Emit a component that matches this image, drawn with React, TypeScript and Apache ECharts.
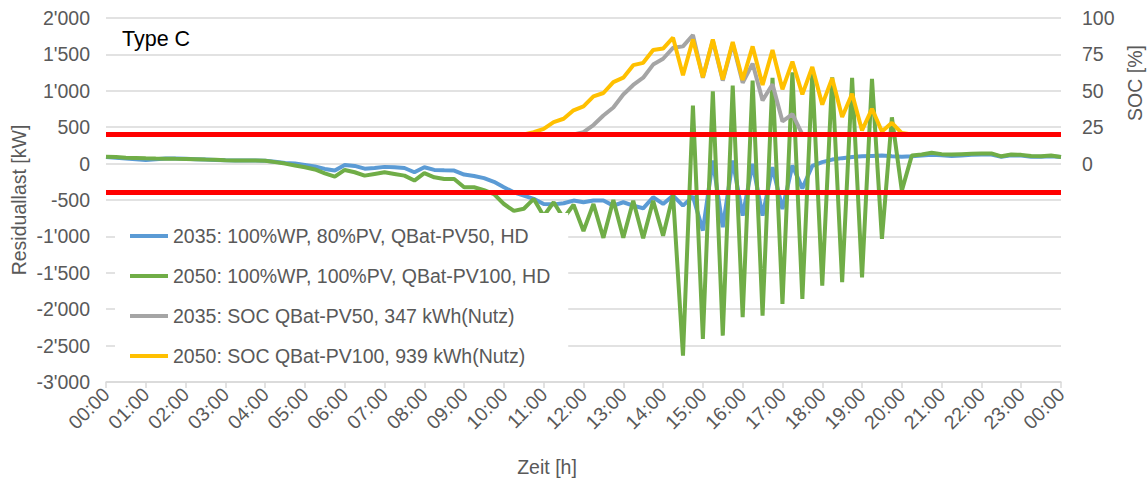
import React, { useEffect, useRef } from "react";
import * as echarts from "echarts";

// Categories: 15-minute steps from 00:00 to 00:00 (97 points)
const times: string[] = [];
for (let i = 0; i <= 96; i++) {
  const h = Math.floor(i / 4) % 24;
  const m = (i % 4) * 15;
  times.push(`${String(h).padStart(2, "0")}:${String(m).padStart(2, "0")}`);
}

const residual2035 = [
  90, 80, 70, 60, 50, 60, 70, 70, 65, 60, 55, 50, 45, 42, 42, 42,
  40, 25, 10, 0, -18, -40, -73, -96, -18, -32, -70, -60, -45, -50, -60, -119,
  -50, -87, -92, -96, -151, -170, -200, -250, -325, -395, -440, -485, -554, -560, -545, -508,
  -531, -508, -508, -577, -531, -577, -614, -462, -554, -440, -577, -450, -920, 41, -875, 41,
  -714, -5, -714, -50, -623, -27, -340, -30, 20, 55, 75, 90, 100, 105, 110, 100,
  95, 100, 110, 120, 115, 105, 110, 120, 125, 125, 95, 115, 110, 95, 95, 100,
  90,
];

const residual2050 = [
  95, 90, 82, 78, 73, 70, 68, 65, 64, 60, 55, 52, 45, 42, 42, 42,
  40, 20, 0, -25, -50, -80, -133, -179, -87, -119, -165, -142, -119, -142, -165, -233,
  -130, -188, -211, -211, -325, -325, -365, -420, -555, -650, -620, -485, -720, -531, -750, -565,
  -925, -555, -1020, -500, -1020, -510, -1025, -510, -990, -430, -2637, 797, -2408, 993, -2363, 1071,
  -2111, 1140, -2088, 1177, -1927, 1254, -1859, 1240, -1676, 1186, -1630, 1177, -1562, 1163, -1035, 636,
  -371, 110, 125, 150, 130, 125, 130, 135, 140, 140, 100, 125, 120, 105, 100, 110,
  90,
];

const soc2035 = [
  20, 20, 20, 20, 20, 20, 20, 20, 20, 20, 20, 20, 20, 20, 20, 20,
  20, 20, 20, 20, 20, 20, 20, 20, 20, 20, 20, 20, 20, 20, 20, 20,
  20, 20, 20, 20, 20, 20, 20, 20, 20, 20, 20, 20, 20, 20, 20, 20,
  21.6, 26.5, 33, 38.5, 47.5, 54, 59, 68, 72, 79.5, 80.5, 88.3, 59, 84.5, 57, 82.5,
  55.5, 68.7, 43.4, 54.5, 29, 34, 20, 20, 20, 20, 20, 20, 20, 20, 20, 20,
  20, 20, 20, 20, 20, 20, 20, 20, 20, 20, 20, 20, 20, 20, 20, 20,
  20,
];

const soc2050 = [
  20, 20, 20, 20, 20, 20, 20, 20, 20, 20, 20, 20, 20, 20, 20, 20,
  20, 20, 20, 20, 20, 20, 20, 20, 20, 20, 20, 20, 20, 20, 20, 20,
  20, 20, 20, 20, 20, 20, 20, 20, 20, 20, 20, 21.6, 23.9, 28.5, 30.8, 36.6,
  39.3, 46.2, 48.5, 56, 59, 67.6, 69.2, 78, 79, 86.5, 60.7, 85.3, 59.3, 85.3, 57.8, 83.5,
  57.5, 80.5, 54, 78, 51, 70, 47.5, 66.4, 40.5, 58.7, 32, 48, 22.8, 37.7, 22, 28,
  21, 20, 20, 20, 20, 20, 20, 20, 20, 20, 20, 20, 20, 20, 20, 20,
  20,
];

const limits = [400, -400];

const seriesNames = [
  "2035: 100%WP, 80%PV, QBat-PV50, HD",
  "2050: 100%WP, 100%PV, QBat-PV100, HD",
  "2035: SOC QBat-PV50, 347 kWh(Nutz)",
  "2050: SOC QBat-PV100, 939 kWh(Nutz)",
];

const FONT = "'Liberation Sans', Arial, sans-serif";
const GRAY_TEXT = "#595959";

function fmtThousands(v: number): string {
  const s = Math.abs(v).toString();
  const body = s.length > 3 ? s.slice(0, s.length - 3) + "'" + s.slice(-3) : s;
  return (v < 0 ? "-" : "") + body;
}

export default function App() {
  const ref = useRef<HTMLDivElement>(null);

  useEffect(() => {
    if (!ref.current) return;
    const chart = echarts.init(ref.current, undefined, { renderer: "svg" });
    const lineSeries = (name: string, data: number[], color: string, yAxisIndex: number) => ({
      name,
      type: "line",
      data,
      yAxisIndex,
      symbol: "none",
      showSymbol: false,
      lineStyle: { color, width: 4 },
      itemStyle: { color },
      z: 2,
    });
    chart.setOption({
      animation: false,
      textStyle: { fontFamily: FONT },
      grid: { left: 106, right: 87, top: 18, bottom: 98, containLabel: false },
      legend: {
        orient: "vertical",
        left: 115,
        top: 213,
        padding: [13, 18, 13, 15],
        backgroundColor: "#ffffff",
        icon: "path://M0,0 L38,0 L38,4 L0,4 Z",
        itemWidth: 38,
        itemHeight: 20,
        itemGap: 20,
        data: seriesNames,
        textStyle: { fontSize: 19.5, color: GRAY_TEXT, fontFamily: FONT },
        selectedMode: false,
      },
      xAxis: {
        type: "category",
        data: times,
        boundaryGap: false,
        axisLine: { onZero: false, lineStyle: { color: "#D9D9D9", width: 1.5 } },
        axisTick: { show: true, interval: 3, length: 6, lineStyle: { color: "#D9D9D9", width: 1.5 } },
        axisLabel: {
          interval: 3,
          rotate: 45,
          margin: 9,
          fontSize: 19.5,
          color: GRAY_TEXT,
          fontFamily: FONT,
        },
        splitLine: { show: false },
      },
      yAxis: [
        {
          type: "value",
          min: -3000,
          max: 2000,
          interval: 500,
          axisLine: { show: false },
          axisTick: { show: false },
          axisLabel: {
            fontSize: 19.5,
            color: GRAY_TEXT,
            margin: 16,
            fontFamily: FONT,
            formatter: (v: number) => fmtThousands(v),
          },
          splitLine: { show: true, lineStyle: { color: "#D9D9D9", width: 1.5 } },
        },
        {
          type: "value",
          min: -150,
          max: 100,
          interval: 25,
          position: "right",
          axisLine: { show: false },
          axisTick: { show: false },
          axisLabel: {
            fontSize: 19.5,
            color: GRAY_TEXT,
            margin: 21,
            fontFamily: FONT,
            formatter: (v: number) => (v >= 0 ? String(v) : ""),
          },
          splitLine: { show: false },
        },
      ],
      series: [
        lineSeries(seriesNames[0], residual2035, "#5B9BD5", 0),
        lineSeries(seriesNames[1], residual2050, "#70AD47", 0),
        lineSeries(seriesNames[2], soc2035, "#A5A5A5", 1),
        lineSeries(seriesNames[3], soc2050, "#FFC000", 1),
        {
          name: "Grenze",
          type: "line",
          data: [],
          yAxisIndex: 0,
          symbol: "none",
          z: 6,
          markLine: {
            silent: true,
            symbol: "none",
            label: { show: false },
            lineStyle: { color: "#FF0000", width: 5, type: "solid" },
            data: limits.map((v) => ({ yAxis: v })),
            z: 6,
          },
        },
      ],
      graphic: [
        {
          type: "text",
          left: 122,
          top: 28,
          style: { text: "Type C", fontSize: 21.5, fill: "#000000", fontFamily: FONT },
        },
        {
          type: "text",
          x: 19,
          y: 200,
          rotation: Math.PI / 2,
          style: {
            text: "Residuallast [kW]",
            fontSize: 19.5,
            fill: GRAY_TEXT,
            fontFamily: FONT,
            align: "center",
            verticalAlign: "middle",
          },
        },
        {
          type: "text",
          x: 1135,
          y: 83,
          rotation: Math.PI / 2,
          style: {
            text: "SOC [%]",
            fontSize: 19.5,
            fill: GRAY_TEXT,
            fontFamily: FONT,
            align: "center",
            verticalAlign: "middle",
          },
        },
        {
          type: "text",
          x: 547,
          y: 467,
          style: {
            text: "Zeit [h]",
            fontSize: 19.5,
            fill: GRAY_TEXT,
            fontFamily: FONT,
            align: "center",
            verticalAlign: "middle",
          },
        },
      ],
    });
    return () => chart.dispose();
  }, []);

  return (
    <div
      ref={ref}
      style={{ position: "fixed", left: 0, top: 0, width: 1148, height: 480, background: "#fff" }}
    />
  );
}
